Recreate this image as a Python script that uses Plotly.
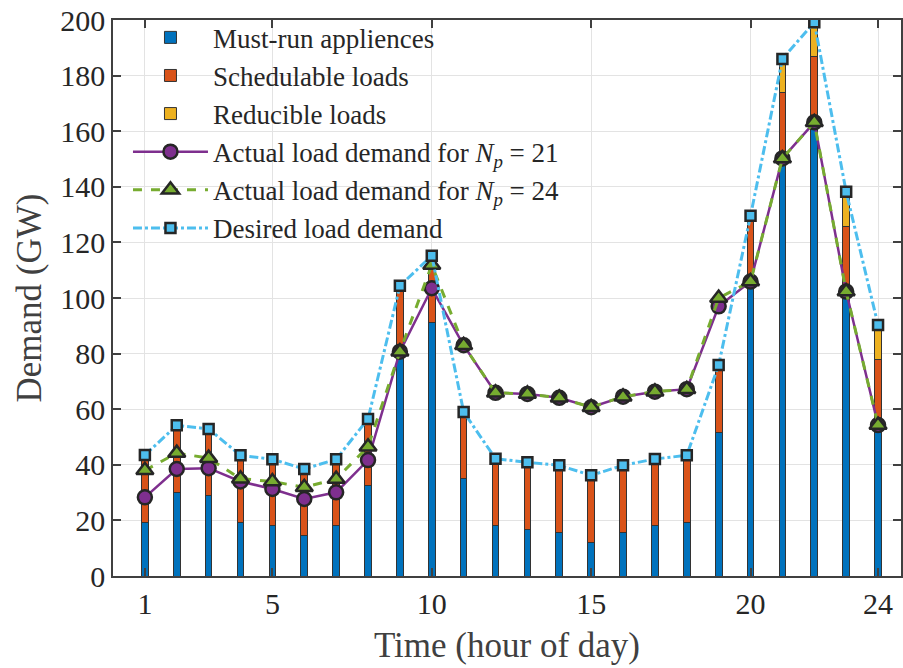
import plotly.graph_objects as go

hours = list(range(1, 25))
must_run = [19.2, 30.0, 28.9, 19.2, 18.1, 14.5, 18.1, 32.5, 80.6, 91.1, 34.9, 18.1,
            16.9, 15.7, 12.1, 15.7, 18.1, 19.3, 51.7, 105.2, 150.0, 163.0, 102.0, 54.0]
schedulable = [24.3, 24.2, 24.0, 24.2, 23.9, 24.0, 23.9, 24.0, 23.8, 24.1, 24.1, 24.1,
               24.0, 24.1, 24.1, 24.1, 24.0, 24.1, 24.2, 24.4, 24.0, 23.9, 23.9, 23.9]
reducible = [0, 0, 0, 0, 0, 0, 0, 0, 0, 0, 0, 0,
             0, 0, 0, 0, 0, 0, 0, 0, 12.0, 12.3, 12.3, 12.4]
actual_np21 = [28.3, 38.5, 38.8, 34.0, 31.3, 27.7, 30.1, 41.7, 80.7, 103.5, 83.0, 65.9,
               65.5, 64.1, 60.7, 64.5, 66.3, 67.2, 97.0, 105.9, 150.2, 163.2, 102.3, 54.3]
actual_np24 = [38.0, 44.2, 42.4, 35.0, 34.0, 31.9, 34.9, 46.5, 80.7, 111.9, 83.0, 65.9,
               65.5, 64.1, 60.7, 64.5, 66.3, 67.2, 100.0, 105.9, 150.2, 163.2, 102.3, 54.3]
desired = [43.5, 54.2, 52.9, 43.4, 42.0, 38.5, 42.0, 56.5, 104.4, 115.2, 59.0, 42.2,
           40.9, 39.8, 36.2, 39.8, 42.1, 43.4, 75.9, 129.6, 186.0, 199.2, 138.2, 90.3]
x_ticks = [1, 5, 10, 15, 20, 24]
y_ticks = list(range(0, 201, 20))

FONT = "Liberation Serif"
TXT = "#262626"
EDGE = "#262626"

fig = go.Figure()
bar_w = 0.21
for name, vals, col in [("Must-run appliences", must_run, "#0072BD"),
                        ("Schedulable loads", schedulable, "#D95319"),
                        ("Reducible loads", reducible, "#EDB120")]:
    fig.add_trace(go.Bar(x=hours, y=vals, name=name, width=bar_w,
                         marker=dict(color=col, line=dict(color="#333333", width=1))))

fig.add_trace(go.Scatter(x=hours, y=actual_np21, mode="lines+markers",
                         name="Actual load demand for <i>N</i><sub><i>p</i></sub> = 21",
                         line=dict(color="#7E2F8E", width=2.5),
                         marker=dict(symbol="circle", size=14, color="#7E2F8E",
                                     line=dict(color=EDGE, width=2.5))))
fig.add_trace(go.Scatter(x=hours, y=actual_np24, mode="lines+markers",
                         name="Actual load demand for <i>N</i><sub><i>p</i></sub> = 24",
                         line=dict(color="#77AC30", width=3, dash="dash"),
                         marker=dict(symbol="triangle-up", size=15, color="#77AC30",
                                     line=dict(color=EDGE, width=2.5))))
fig.add_trace(go.Scatter(x=hours, y=desired, mode="lines+markers",
                         name="Desired load demand",
                         line=dict(color="#4DBEEE", width=3, dash="dashdot"),
                         marker=dict(symbol="square", size=10, color="#4DBEEE",
                                     line=dict(color=EDGE, width=2.5))))

fig.update_layout(
    width=903, height=668,
    margin=dict(l=113, r=0, t=20, b=92),
    paper_bgcolor="white", plot_bgcolor="white",
    barmode="stack",
    font=dict(family=FONT, color=TXT, size=30),
    showlegend=True,
    legend=dict(x=0.019, y=1.012, xanchor="left", yanchor="top",
                bgcolor="rgba(0,0,0,0)", font=dict(size=27, family=FONT, color=TXT),
                traceorder="normal", itemwidth=75, tracegroupgap=0),
    xaxis=dict(range=[0, 24.72], tickvals=x_ticks, ticktext=[str(t) for t in x_ticks],
               showgrid=True, gridcolor="#e3e3e3", gridwidth=1,
               showline=True, linecolor="#404040", linewidth=1.5, mirror="ticks",
               ticks="inside", ticklen=8, tickwidth=1.5, tickcolor="#404040",
               tickfont=dict(size=30, family=FONT, color=TXT),
               title=dict(text="Time (hour of day)", font=dict(size=35, family=FONT, color="#404040"),
                          standoff=14),
               zeroline=False),
    yaxis=dict(range=[0, 200], tickvals=y_ticks,
               showgrid=True, gridcolor="#e3e3e3", gridwidth=1,
               showline=True, linecolor="#404040", linewidth=1.5, mirror="ticks",
               ticks="inside", ticklen=8, tickwidth=1.5, tickcolor="#404040",
               tickfont=dict(size=30, family=FONT, color=TXT),
               title=dict(text="Demand (GW)", font=dict(size=35, family=FONT, color="#404040"),
                          standoff=8),
               zeroline=False),
)

fig.write_html("out.html")
